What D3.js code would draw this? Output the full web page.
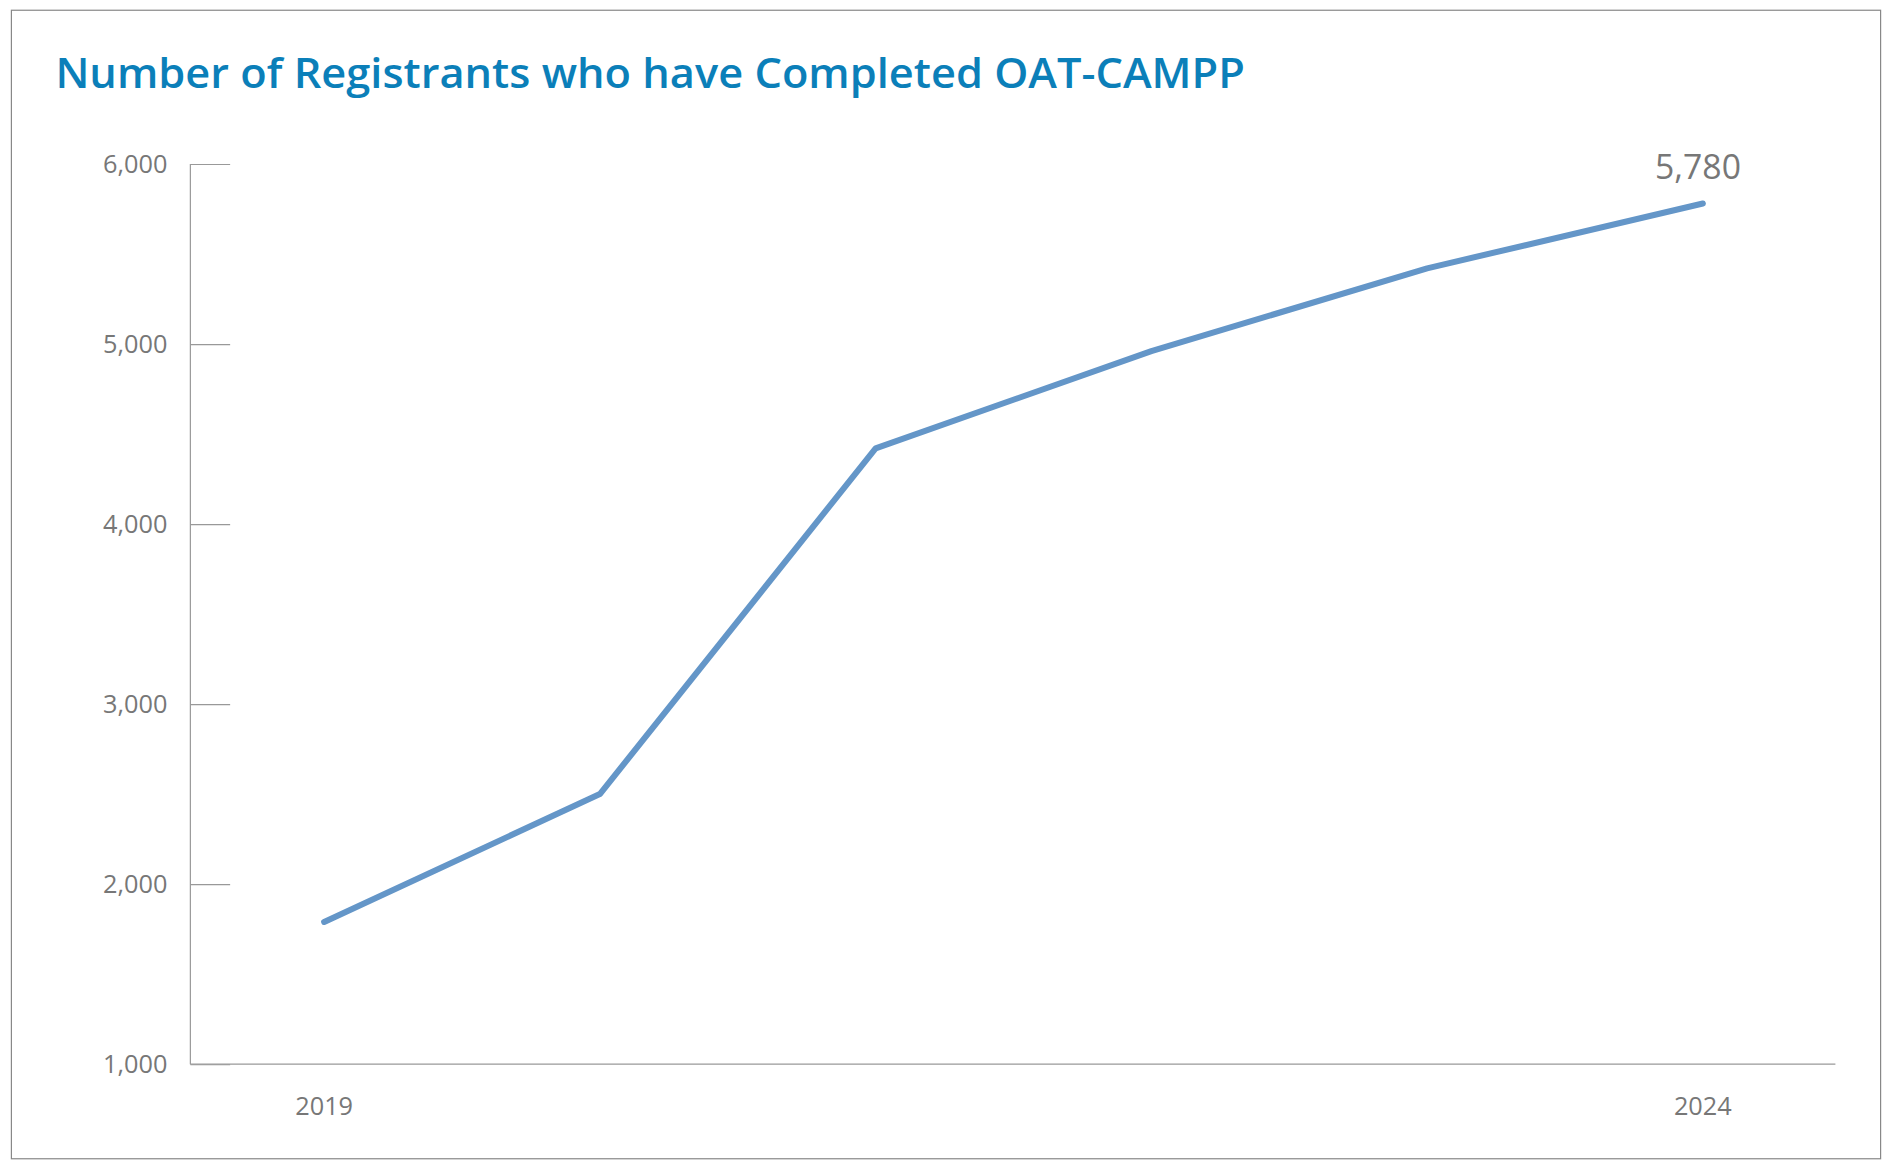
<!DOCTYPE html>
<html>
<head>
<meta charset="utf-8">
<style>
    body { margin: 0; background: #fff; }
    text { font-family: "Open Sans", sans-serif; }
</style>
</head>
<body>
<script src="https://cdn.jsdelivr.net/npm/d3@7"></script>
<script>
    // data
    var years = [2019, 2020, 2021, 2022, 2023, 2024];
    var registrants = [1790, 2500, 4420, 4960, 5420, 5780];
    var yTicks = [1000, 2000, 3000, 4000, 5000, 6000];

    // draw in a 1568x970 space, stretched to the window
    var svg = d3.select("body").append("svg")
        .attr("width", 1892).attr("height", 1169)
        .attr("viewBox", "0 0 1568 970");

    svg.append("rect")
        .attr("x", 8.5).attr("y", 8.5).attr("width", 1551).attr("height", 953)
        .attr("fill", "none").attr("stroke", "#888").attr("stroke-width", 1);

    svg.append("text")
        .attr("x", 45).attr("y", 73)
        .attr("fill", "#0b7fb9")
        .style("font-size", "35px").style("font-weight", 600)
        .attr("textLength", 987).attr("lengthAdjust", "spacingAndGlyphs")
        .text("Number of Registrants who have Completed OAT-CAMPP");

    var x = d3.scaleLinear().domain([2019, 2024]).range([268, 1412]);
    var y = d3.scaleLinear().domain([1000, 6000]).range([883, 136]);

    // y axis: ticks run to the right of the axis line
    var yAxis = svg.append("g").attr("transform", "translate(157,0)")
        .call(d3.axisRight(y).tickValues(yTicks).tickSize(33).tickFormat(d3.format(",")));
    yAxis.select(".domain").remove();
    yAxis.selectAll(".tick line").attr("stroke", "#999");
    yAxis.selectAll(".tick text")
        .attr("x", -19).attr("dy", "0.32em").attr("text-anchor", "end")
        .attr("fill", "#777").style("font-size", "21px");

    svg.append("line").attr("x1", 157).attr("x2", 157).attr("y1", 136).attr("y2", 883)
        .attr("stroke", "#999");
    svg.append("line").attr("x1", 157).attr("x2", 1522).attr("y1", 883).attr("y2", 883)
        .attr("stroke", "#999");

    svg.selectAll(".xlab")
        .data([years[0], years[years.length - 1]])
        .enter().append("text")
        .attr("class", "xlab")
        .attr("x", d => x(d)).attr("y", 925)
        .attr("text-anchor", "middle")
        .attr("fill", "#777").style("font-size", "21px")
        .text(d => d);

    var line = d3.line()
        .x((d, i) => x(years[i]))
        .y(d => y(d));

    svg.append("path")
        .datum(registrants)
        .attr("d", line)
        .attr("fill", "none")
        .attr("stroke", "#6496c8")
        .attr("stroke-width", 5)
        .attr("stroke-linecap", "round")
        .attr("stroke-linejoin", "round");

    var last = registrants.length - 1;
    svg.append("text")
        .attr("x", x(years[last]) - 4).attr("y", y(registrants[last]) - 20)
        .attr("text-anchor", "middle")
        .attr("fill", "#777").style("font-size", "28px")
        .text(d3.format(",")(registrants[last]));
</script>
</body>
</html>
